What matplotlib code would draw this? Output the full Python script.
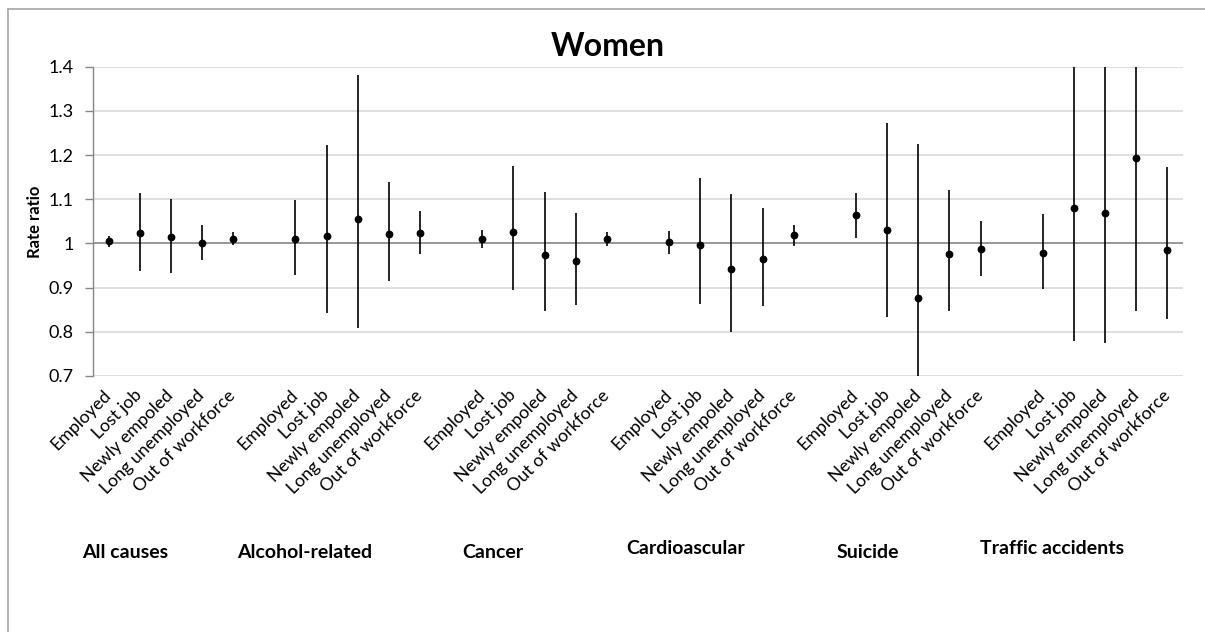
import matplotlib
matplotlib.use("Agg")
import matplotlib.pyplot as plt
from matplotlib.lines import Line2D
import numpy as np

plt.rcParams['font.family'] = ['Lato', 'DejaVu Sans']

causes = ["All causes", "Alcohol-related", "Cancer", "Cardioascular",
          "Suicide", "Traffic accidents"]
statuses = ["Employed", "Lost job", "Newly empoled", "Long unemployed",
            "Out of workforce"]

# Rate ratios and 95% confidence limits, one row per cause
rate_ratio = [
    [1.006, 1.024, 1.014, 1.002, 1.011],
    [1.011, 1.017, 1.056, 1.022, 1.023],
    [1.010, 1.026, 0.973, 0.960, 1.011],
    [1.004, 0.997, 0.943, 0.964, 1.019],
    [1.064, 1.030, 0.876, 0.975, 0.988],
    [0.978, 1.081, 1.070, 1.194, 0.986],
]
lower = [
    [0.992, 0.938, 0.934, 0.962, 0.997],
    [0.928, 0.843, 0.808, 0.916, 0.976],
    [0.990, 0.894, 0.846, 0.860, 0.995],
    [0.977, 0.864, 0.800, 0.858, 0.995],
    [1.012, 0.834, 0.690, 0.848, 0.926],
    [0.896, 0.780, 0.775, 0.848, 0.828],
]
upper = [
    [1.017, 1.115, 1.101, 1.042, 1.026],
    [1.099, 1.222, 1.381, 1.138, 1.073],
    [1.030, 1.176, 1.117, 1.070, 1.025],
    [1.029, 1.149, 1.113, 1.081, 1.042],
    [1.115, 1.272, 1.226, 1.120, 1.051],
    [1.066, 1.500, 1.480, 1.680, 1.173],
]

y_ticks = [0.7, 0.8, 0.9, 1.0, 1.1, 1.2, 1.3, 1.4]
y_tick_labels = ["0.7", "0.8", "0.9", "1", "1.1", "1.2", "1.3", "1.4"]

fig = plt.figure(figsize=(12.05, 6.32), dpi=100)
ax = fig.add_axes([93 / 1205, 1 - 376 / 632, 1090 / 1205, (376 - 66.7) / 632])

# each cause gets five slots plus one empty slot as a separator
slot = len(statuses) + 1
positions, labels = [], []
for g, cause in enumerate(causes):
    x = np.arange(len(statuses)) + g * slot
    rr = np.array(rate_ratio[g])
    lo = np.array(lower[g])
    hi = np.array(upper[g])
    ax.errorbar(x, rr, yerr=[rr - lo, hi - rr], fmt='o', color='black',
                ecolor='black', elinewidth=1.2, capsize=0, markersize=4.6,
                zorder=3)
    positions.extend(x)
    labels.extend(statuses)

n_slots = len(causes) * slot - 1
ax.set_xlim(-0.5, n_slots - 0.5)
ax.set_ylim(0.7, 1.4)

ax.set_yticks(y_ticks)
ax.set_yticklabels(y_tick_labels, fontsize=13)
ax.yaxis.grid(True, color='#d9d9d9', linewidth=1.2, zorder=0)
ax.set_axisbelow(True)
ax.axhline(1.0, color='#868686', linewidth=1.1, zorder=1)

ax.set_xticks(positions)
ax.set_xticklabels(labels, rotation=45, ha='right', va='center',
                   rotation_mode='anchor', fontsize=12.8)
ax.tick_params(axis='x', length=0, pad=12)
ax.tick_params(axis='y', length=6, width=1, color='#868686', pad=8)

for side in ('top', 'right', 'bottom'):
    ax.spines[side].set_visible(False)
ax.spines['left'].set_color('#868686')
ax.spines['left'].set_linewidth(1.0)

ax.set_ylabel("Rate ratio", fontsize=12, fontweight='bold', labelpad=4)

fig.text(608 / 1205, 1 - 46 / 632, "Women", ha='center', va='center',
         fontsize=23, fontweight='bold')

# cause names under each block of status labels
group_left_px = [82, 237, 462, 626, 837, 980]
group_y_px = [552, 553, 553, 549, 552, 549]
for cause, gx, gy in zip(causes, group_left_px, group_y_px):
    fig.text(gx / 1205, 1 - gy / 632, cause, ha='left', va='center',
             fontsize=14, fontweight='bold')

# outer chart frame
frame_kw = dict(color='#a6a6a6', linewidth=1.2, transform=fig.transFigure)
fig.add_artist(Line2D([8 / 1205, 8 / 1205], [0, 1 - 9 / 632], **frame_kw))
fig.add_artist(Line2D([8 / 1205, 1], [1 - 9 / 632, 1 - 9 / 632], **frame_kw))

fig.savefig("out.png", dpi=100, facecolor='white')
